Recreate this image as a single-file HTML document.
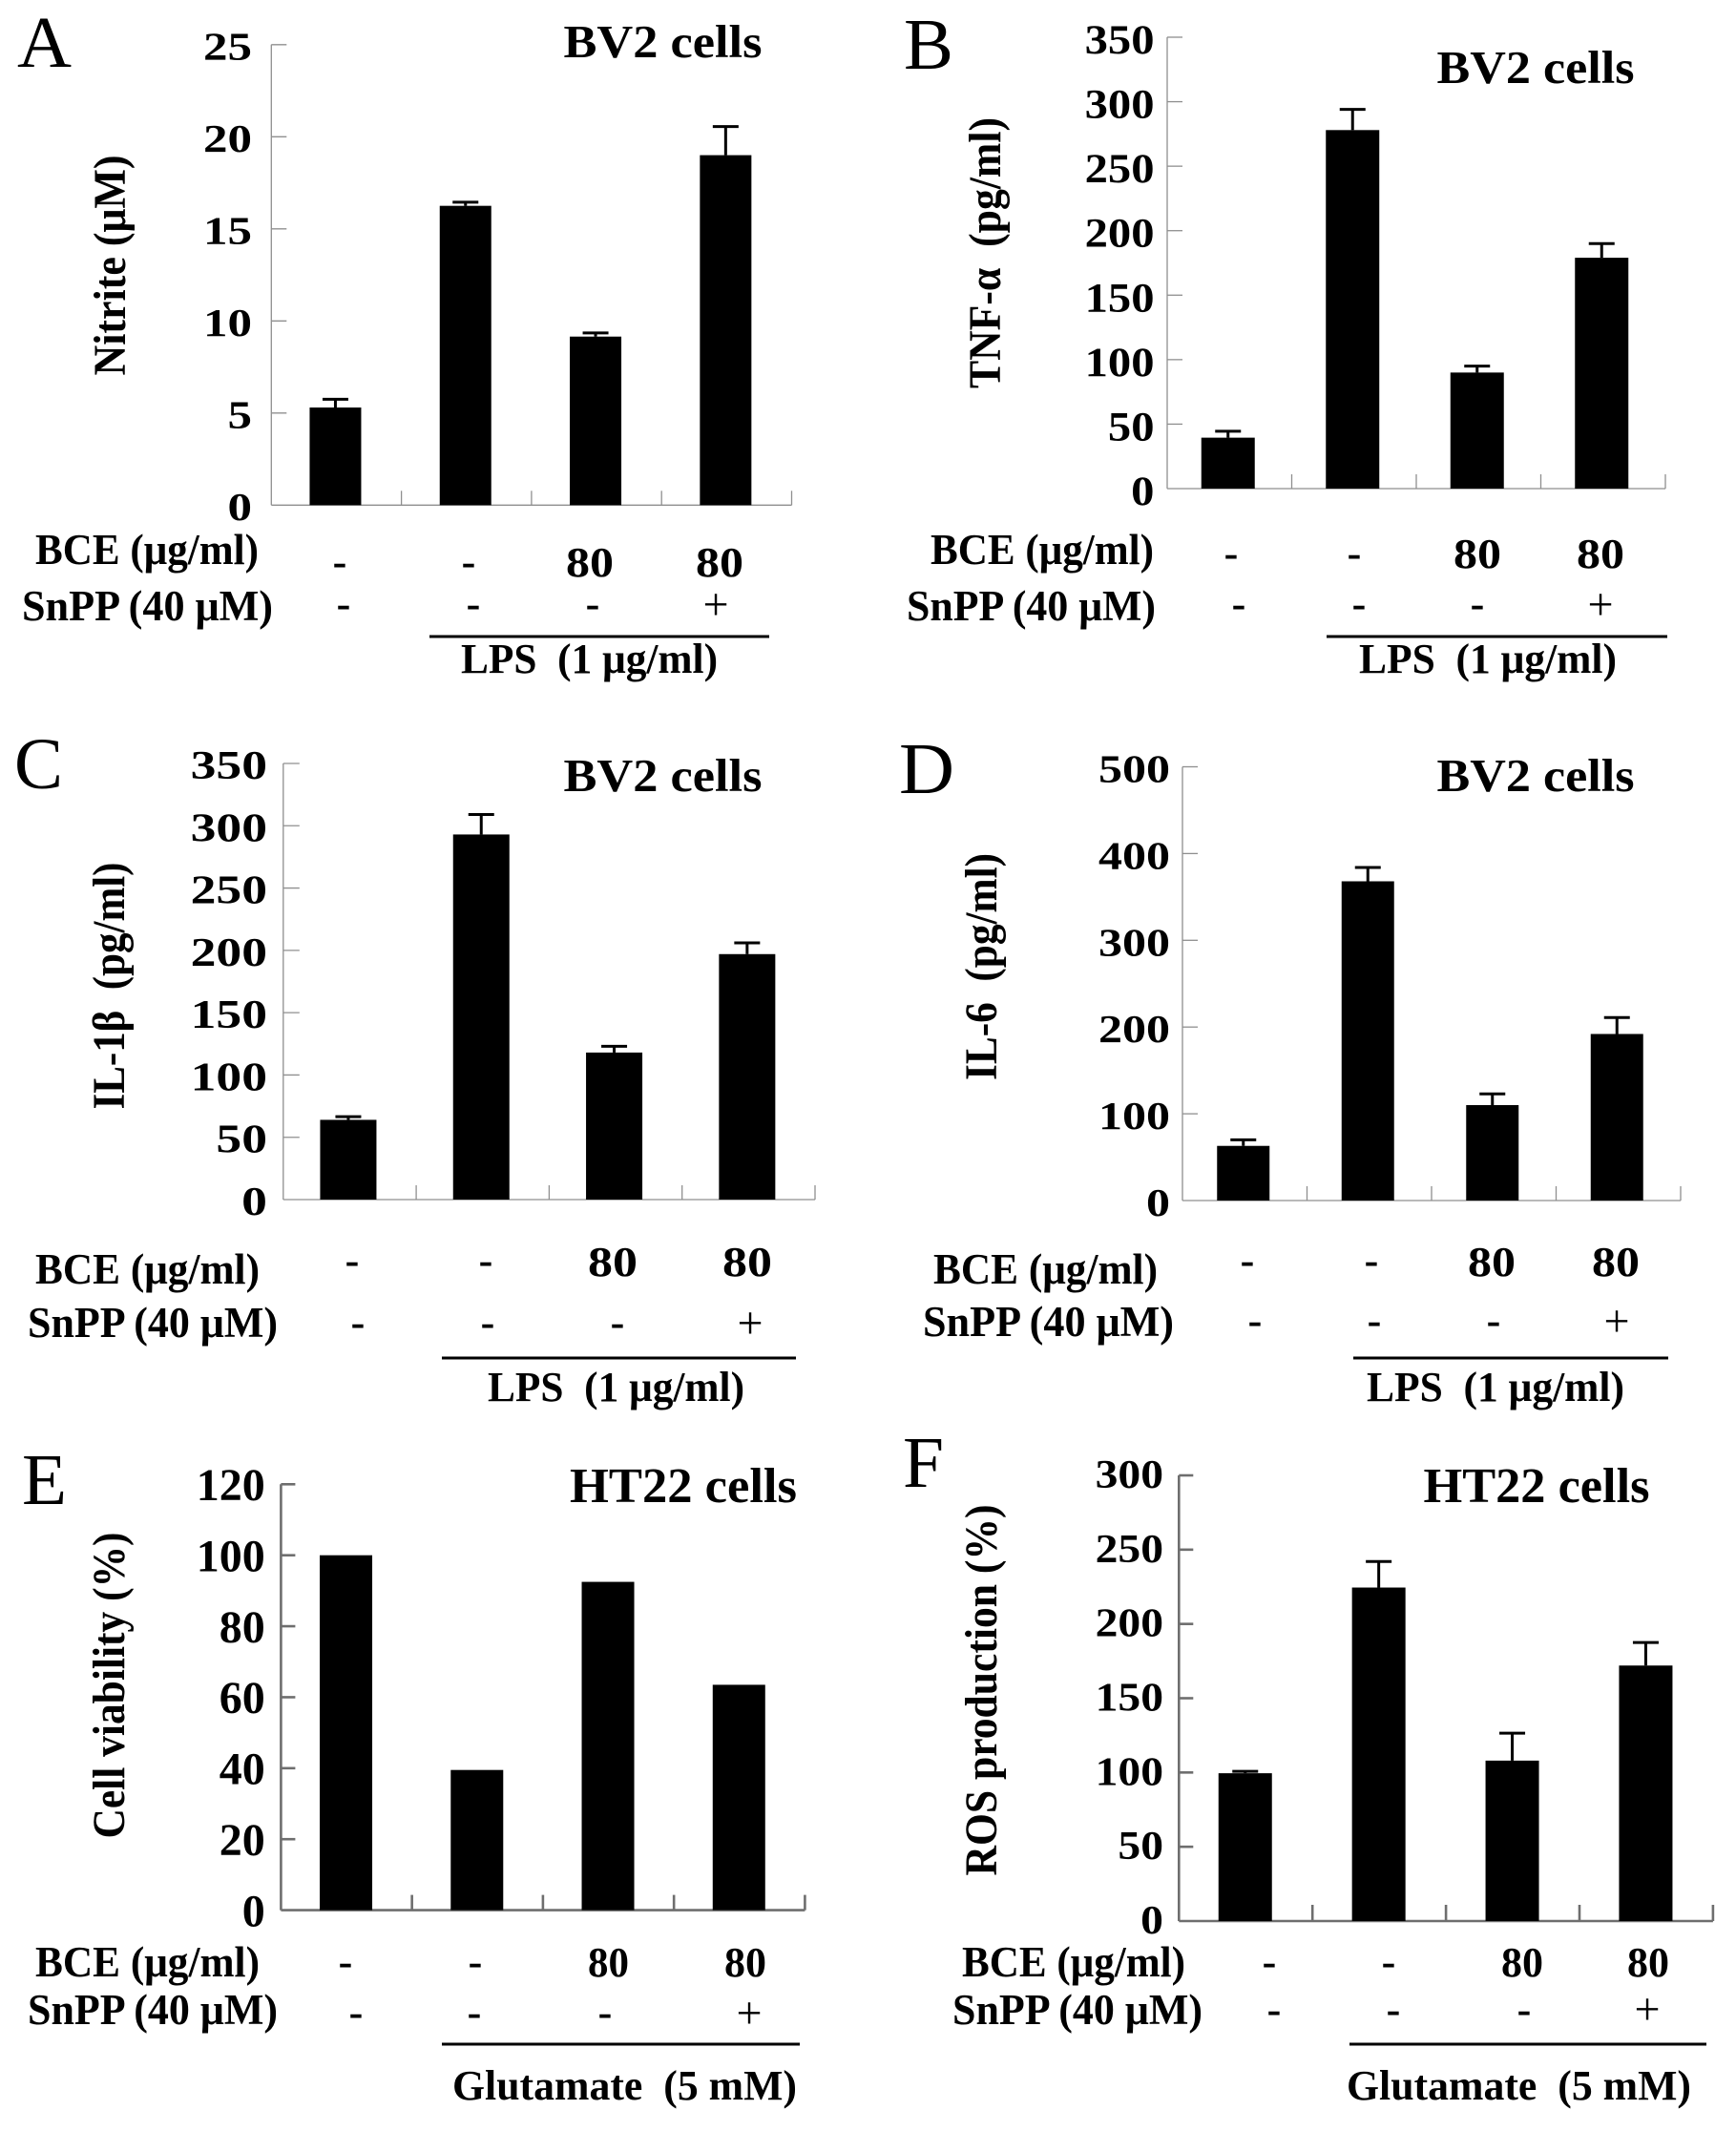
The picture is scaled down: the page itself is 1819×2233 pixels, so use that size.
<!DOCTYPE html>
<html lang="en">
<head>
<meta charset="utf-8">
<title>BCE and SnPP bar chart panels</title>
<style>
html,body{margin:0;padding:0;background:#fff;}
svg{display:block;}
text{font-family:"Liberation Serif",serif;fill:#000;}
.b{font-weight:bold;}
.letter{font-size:76px;font-weight:normal;}
.title{font-size:49px;font-weight:bold;}
.ylab{font-size:48px;font-weight:bold;text-anchor:middle;}
.row{font-size:45px;font-weight:bold;}
.dash{font-size:44px;font-weight:bold;text-anchor:middle;}
.plus{font-size:48px;font-weight:normal;text-anchor:middle;}
.val{font-size:44px;font-weight:bold;}
.grp{font-size:44px;font-weight:bold;}
</style>
</head>
<body>
<svg id="figure" xmlns="http://www.w3.org/2000/svg" width="1819" height="2233" viewBox="0 0 1819 2233">
<rect x="0" y="0" width="1819" height="2233" fill="#fff"/>

<!-- Panel A -->
<g>
<text class="letter" x="18" y="70" textLength="57" lengthAdjust="spacingAndGlyphs">A</text>
<text class="title" x="590.5" y="60" textLength="208" lengthAdjust="spacingAndGlyphs">BV2 cells</text>
<text class="ylab" transform="translate(131,278) rotate(-90)" textLength="231" lengthAdjust="spacingAndGlyphs">Nitrite (μM)</text>
<text class="row" x="37" y="591" textLength="234" lengthAdjust="spacingAndGlyphs">BCE (μg/ml)</text>
<text class="row" x="23" y="650" textLength="263" lengthAdjust="spacingAndGlyphs">SnPP (40 μM)</text>
<text class="dash" x="356" y="603">-</text>
<text class="dash" x="491" y="603">-</text>
<text class="val" x="593" y="604" textLength="50" lengthAdjust="spacingAndGlyphs">80</text>
<text class="val" x="729" y="604" textLength="50" lengthAdjust="spacingAndGlyphs">80</text>
<text class="dash" x="360" y="647">-</text>
<text class="dash" x="496" y="647">-</text>
<text class="dash" x="621" y="647">-</text>
<text class="plus" x="750" y="649">+</text>
<line x1="450" y1="667" x2="806" y2="667" stroke="#000" stroke-width="3"/>
<text class="grp" x="483" y="705" textLength="269" lengthAdjust="spacingAndGlyphs">LPS&#160;&#160;(1 μg/ml)</text>
</g>

<!-- Panel B -->
<g>
<text class="letter" x="947" y="72" textLength="52" lengthAdjust="spacingAndGlyphs">B</text>
<text class="title" x="1505.5" y="87" textLength="207" lengthAdjust="spacingAndGlyphs">BV2 cells</text>
<text class="ylab" transform="translate(1048,265) rotate(-90)" textLength="284" lengthAdjust="spacingAndGlyphs">TNF-α&#160;&#160;(pg/ml)</text>
<text class="row" x="975" y="591" textLength="234" lengthAdjust="spacingAndGlyphs">BCE (μg/ml)</text>
<text class="row" x="950" y="650" textLength="261" lengthAdjust="spacingAndGlyphs">SnPP (40 μM)</text>
<text class="dash" x="1290" y="594">-</text>
<text class="dash" x="1419" y="594">-</text>
<text class="val" x="1523" y="595" textLength="50" lengthAdjust="spacingAndGlyphs">80</text>
<text class="val" x="1652" y="595" textLength="50" lengthAdjust="spacingAndGlyphs">80</text>
<text class="dash" x="1298" y="647">-</text>
<text class="dash" x="1424" y="647">-</text>
<text class="dash" x="1548" y="647">-</text>
<text class="plus" x="1677" y="649">+</text>
<line x1="1390" y1="667" x2="1747" y2="667" stroke="#000" stroke-width="3"/>
<text class="grp" x="1424" y="705" textLength="270" lengthAdjust="spacingAndGlyphs">LPS&#160;&#160;(1 μg/ml)</text>
</g>

<!-- Panel C -->
<g>
<text class="letter" x="15" y="826" textLength="51" lengthAdjust="spacingAndGlyphs">C</text>
<text class="title" x="590.5" y="829" textLength="208" lengthAdjust="spacingAndGlyphs">BV2 cells</text>
<text class="ylab" transform="translate(130,1033) rotate(-90)" textLength="259" lengthAdjust="spacingAndGlyphs">IL-1β&#160;&#160;(pg/ml)</text>
<text class="row" x="37" y="1345" textLength="235" lengthAdjust="spacingAndGlyphs">BCE (μg/ml)</text>
<text class="row" x="29" y="1401" textLength="262" lengthAdjust="spacingAndGlyphs">SnPP (40 μM)</text>
<text class="dash" x="369" y="1335">-</text>
<text class="dash" x="509" y="1335">-</text>
<text class="val" x="616" y="1337" textLength="52" lengthAdjust="spacingAndGlyphs">80</text>
<text class="val" x="757" y="1337" textLength="52" lengthAdjust="spacingAndGlyphs">80</text>
<text class="dash" x="375" y="1400">-</text>
<text class="dash" x="511" y="1400">-</text>
<text class="dash" x="647" y="1400">-</text>
<text class="plus" x="786" y="1402">+</text>
<line x1="463" y1="1423" x2="834" y2="1423" stroke="#000" stroke-width="3"/>
<text class="grp" x="511" y="1468" textLength="269" lengthAdjust="spacingAndGlyphs">LPS&#160;&#160;(1 μg/ml)</text>
</g>

<!-- Panel D -->
<g>
<text class="letter" x="942" y="831" textLength="58" lengthAdjust="spacingAndGlyphs">D</text>
<text class="title" x="1505.5" y="829" textLength="207" lengthAdjust="spacingAndGlyphs">BV2 cells</text>
<text class="ylab" transform="translate(1044,1013) rotate(-90)" textLength="238" lengthAdjust="spacingAndGlyphs">IL-6&#160;&#160;(pg/ml)</text>
<text class="row" x="978" y="1345" textLength="235" lengthAdjust="spacingAndGlyphs">BCE (μg/ml)</text>
<text class="row" x="967" y="1400" textLength="263" lengthAdjust="spacingAndGlyphs">SnPP (40 μM)</text>
<text class="dash" x="1307" y="1335">-</text>
<text class="dash" x="1437" y="1335">-</text>
<text class="val" x="1538" y="1337" textLength="50" lengthAdjust="spacingAndGlyphs">80</text>
<text class="val" x="1668" y="1337" textLength="50" lengthAdjust="spacingAndGlyphs">80</text>
<text class="dash" x="1315" y="1398">-</text>
<text class="dash" x="1440" y="1398">-</text>
<text class="dash" x="1565" y="1398">-</text>
<text class="plus" x="1694" y="1400">+</text>
<line x1="1418" y1="1423" x2="1748" y2="1423" stroke="#000" stroke-width="3"/>
<text class="grp" x="1432" y="1468" textLength="270" lengthAdjust="spacingAndGlyphs">LPS&#160;&#160;(1 μg/ml)</text>
</g>

<!-- Panel E -->
<g>
<text class="letter" x="23" y="1576" textLength="47" lengthAdjust="spacingAndGlyphs">E</text>
<text class="title" x="597" y="1574" textLength="238" lengthAdjust="spacingAndGlyphs" style="font-size:52px">HT22 cells</text>
<text class="ylab" transform="translate(130,1766) rotate(-90)" textLength="321" lengthAdjust="spacingAndGlyphs">Cell viability (%)</text>
<text class="row" x="37" y="2071" textLength="235" lengthAdjust="spacingAndGlyphs">BCE (μg/ml)</text>
<text class="row" x="29" y="2121" textLength="262" lengthAdjust="spacingAndGlyphs">SnPP (40 μM)</text>
<text class="dash" x="362" y="2070">-</text>
<text class="dash" x="498" y="2070">-</text>
<text class="val" x="616" y="2071" textLength="43" lengthAdjust="spacingAndGlyphs">80</text>
<text class="val" x="759" y="2071" textLength="44" lengthAdjust="spacingAndGlyphs">80</text>
<text class="dash" x="373" y="2123">-</text>
<text class="dash" x="497" y="2123">-</text>
<text class="dash" x="634" y="2123">-</text>
<text class="plus" x="785" y="2125">+</text>
<line x1="463" y1="2142" x2="838" y2="2142" stroke="#000" stroke-width="3"/>
<text class="grp" x="474" y="2200" textLength="361" lengthAdjust="spacingAndGlyphs">Glutamate&#160;&#160;(5 mM)</text>
</g>

<!-- Panel F -->
<g>
<text class="letter" x="946" y="1558" textLength="43" lengthAdjust="spacingAndGlyphs">F</text>
<text class="title" x="1491.5" y="1574" textLength="237" lengthAdjust="spacingAndGlyphs" style="font-size:52px">HT22 cells</text>
<text class="ylab" transform="translate(1044,1771) rotate(-90)" textLength="389" lengthAdjust="spacingAndGlyphs">ROS production (%)</text>
<text class="row" x="1008" y="2071" textLength="234" lengthAdjust="spacingAndGlyphs">BCE (μg/ml)</text>
<text class="row" x="998" y="2121" textLength="262" lengthAdjust="spacingAndGlyphs">SnPP (40 μM)</text>
<text class="dash" x="1330" y="2070">-</text>
<text class="dash" x="1455" y="2070">-</text>
<text class="val" x="1573" y="2071" textLength="44" lengthAdjust="spacingAndGlyphs">80</text>
<text class="val" x="1705" y="2071" textLength="44" lengthAdjust="spacingAndGlyphs">80</text>
<text class="dash" x="1335" y="2120">-</text>
<text class="dash" x="1460" y="2120">-</text>
<text class="dash" x="1597" y="2120">-</text>
<text class="plus" x="1726" y="2121">+</text>
<line x1="1414" y1="2142" x2="1788" y2="2142" stroke="#000" stroke-width="3"/>
<text class="grp" x="1411" y="2200" textLength="361" lengthAdjust="spacingAndGlyphs">Glutamate&#160;&#160;(5 mM)</text>
</g>
</svg>

<script>
const categories = ['control', 'stimulus', 'stimulus-bce', 'stimulus-bce-snpp'];

const nitriteTicks = [0, 5, 10, 15, 20, 25];
const nitriteValues = [5.3, 16.25, 9.15, 19.0];
const nitriteErrors = [0.45, 0.2, 0.2, 1.55];

const tnfTicks = [0, 50, 100, 150, 200, 250, 300, 350];
const tnfValues = [39.5, 278, 90, 179];
const tnfErrors = [5, 16, 5, 11];

const il1Ticks = [0, 50, 100, 150, 200, 250, 300, 350];
const il1Values = [64, 293, 118, 197];
const il1Errors = [2.5, 16, 5, 9];

const il6Ticks = [0, 100, 200, 300, 400, 500];
const il6Values = [63, 368, 110, 192];
const il6Errors = [7, 16, 13, 19];

const viabilityTicks = [0, 20, 40, 60, 80, 100, 120];
const viabilityValues = [100, 39.5, 92.5, 63.5];
const viabilityErrors = [0, 0, 0, 0];

const rosTicks = [0, 50, 100, 150, 200, 250, 300];
const rosValues = [99.5, 224.5, 108, 172];
const rosErrors = [1.3, 17.5, 18.5, 15.5];

const layoutA = {id:'a', ticks:nitriteTicks, values:nitriteValues, errors:nitriteErrors, left:284.3, right:829.5, top:46.8, bottom:529.3, barWidth:54, nudge:-1, tickLen:16, tickUp:15, labelRight:264, fontSize:41, digit:25.5, base:15.5, color:'#8f8f8f', sw:1.3};
const layoutB = {id:'b', ticks:tnfTicks, values:tnfValues, errors:tnfErrors, left:1223, right:1745, top:39, bottom:512, barWidth:56, nudge:-1.5, tickLen:16, tickUp:15, labelRight:1209.5, fontSize:43, digit:24.3, base:17, color:'#8f8f8f', sw:1.3};
const layoutC = {id:'c', ticks:il1Ticks, values:il1Values, errors:il1Errors, left:296.8, right:854, top:800, bottom:1257, barWidth:59, nudge:-1.5, tickLen:17, tickUp:15, labelRight:280, fontSize:42, digit:26.8, base:16, color:'#8f8f8f', sw:1.3};
const layoutD = {id:'d', ticks:il6Ticks, values:il6Values, errors:il6Errors, left:1239, right:1761, top:803.5, bottom:1258, barWidth:55, nudge:-1.5, tickLen:16, tickUp:15, labelRight:1226, fontSize:41, digit:25, base:16, color:'#8f8f8f', sw:1.3};
const layoutE = {id:'e', ticks:viabilityTicks, values:viabilityValues, errors:viabilityErrors, left:294.4, right:843.4, top:1555.3, bottom:2001.6, barWidth:55, nudge:-0.5, tickLen:15, tickUp:16, labelRight:277.7, fontSize:48, digit:24, base:16.7, color:'#6e6e6e', sw:2.6};
const layoutF = {id:'f', ticks:rosTicks, values:rosValues, errors:rosErrors, left:1235.3, right:1794.9, top:1546, bottom:2013, barWidth:56, nudge:-0.5, tickLen:15, tickUp:17, labelRight:1219, fontSize:42, digit:23.8, base:13, color:'#6e6e6e', sw:2.6};
const layouts = [layoutA, layoutB, layoutC, layoutD, layoutE, layoutF];

const SVG_NS = 'http://www.w3.org/2000/svg';
const figure = document.getElementById('figure');

function make(parent, tag, attrs) {
  const el = document.createElementNS(SVG_NS, tag);
  Object.keys(attrs).forEach(function (k) { el.setAttribute(k, attrs[k]); });
  parent.appendChild(el);
  return el;
}

function drawPanel(p) {
  const yMax = p.ticks[p.ticks.length - 1];
  const yScale = function (v) { return p.bottom - (v / yMax) * (p.bottom - p.top); };
  const step = (p.right - p.left) / categories.length;
  const xCenter = function (i) { return p.left + (i + 0.5) * step + p.nudge; };

  const group = make(figure, 'g', {});
  
  

  const yAxis = make(group, 'line', {x1:p.left, y1:p.top, x2:p.left, y2:p.bottom, stroke:p.color, 'stroke-width':p.sw});
  
  

  const xAxis = make(group, 'line', {x1:p.left, y1:p.bottom, x2:p.right, y2:p.bottom, stroke:p.color, 'stroke-width':p.sw});
  
  

  p.ticks.forEach(function (t) {
    const y = yScale(t);
    if (t !== 0) {
      const tick = make(group, 'line', {x1:p.left, y1:y, x2:p.left + p.tickLen, y2:y, stroke:p.color, 'stroke-width':p.sw});
      
      
    }
    const str = String(t);
    const label = make(group, 'text', {x:p.labelRight, y:y + p.base, 'text-anchor':'end', 'font-size':p.fontSize, 'font-weight':'bold', textLength:str.length * p.digit, lengthAdjust:'spacingAndGlyphs'});
    
    
    label.textContent = str;
  });

  categories.forEach(function (c, i) {
    const sepX = p.left + (i + 1) * step;
    const sep = make(group, 'line', {x1:sepX, y1:p.bottom - p.tickUp, x2:sepX, y2:p.bottom, stroke:p.color, 'stroke-width':p.sw});
    
    

    const cx = xCenter(i);
    const top = yScale(p.values[i]);
    const err = p.errors[i];
    if (err > 0) {
      const errTop = yScale(p.values[i] + err);
      const stem = make(group, 'line', {x1:cx, y1:top, x2:cx, y2:errTop, stroke:'#000', 'stroke-width':3});
      
      
      const cap = make(group, 'line', {x1:cx - 13.5, y1:errTop, x2:cx + 13.5, y2:errTop, stroke:'#000', 'stroke-width':3});
      
      
    }
    const bar = make(group, 'rect', {x:cx - p.barWidth / 2, y:top, width:p.barWidth, height:p.bottom - top, fill:'#000'});
    
    
  });
}

layouts.forEach(drawPanel);
</script>
</body>
</html>
